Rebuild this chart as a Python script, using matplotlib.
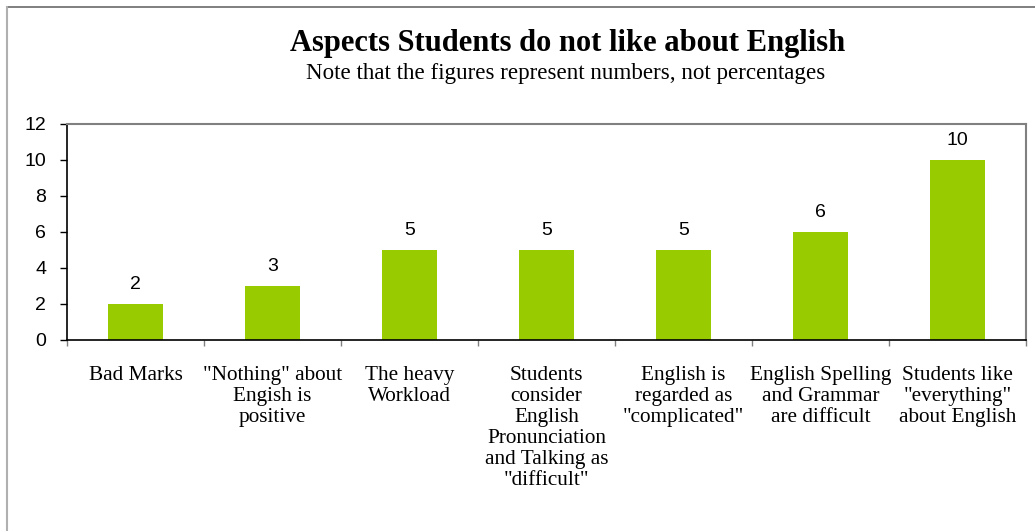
import numpy as np
import matplotlib.pyplot as plt
from matplotlib.lines import Line2D

# dados do gráfico
categorias = [
    'Bad Marks',
    '"Nothing" about\nEngish is\npositive',
    'The heavy\nWorkload',
    'Students\nconsider\nEnglish\nPronunciation\nand Talking as\n"difficult"',
    'English is\nregarded as\n"complicated"',
    'English Spelling\nand Grammar\nare difficult',
    'Students like\n"everything"\nabout English',
]
valores = [2, 3, 5, 5, 5, 6, 10]
ticks_y = [0, 2, 4, 6, 8, 10, 12]

titulo = 'Aspects Students do not like about English'
subtitulo = 'Note that the figures represent numbers, not percentages'

fig = plt.figure(figsize=(10.35, 5.31), dpi=100)
ax = fig.add_axes([67 / 1035, 1 - 340 / 531, (1026 - 67) / 1035, (340 - 124) / 531])

x = np.arange(len(categorias))
barras = ax.bar(x, valores, width=0.4, color='#99CC00', zorder=2)

for xi, v in zip(x, valores):
    ax.annotate(str(v), (xi, v), xytext=(0, 8), textcoords='offset points',
                ha='center', va='bottom', fontsize=14, family='Liberation Sans')

ax.set_xlim(-0.5, len(categorias) - 0.5)
ax.set_ylim(0, 12)
ax.set_yticks(ticks_y)
ax.set_yticklabels([str(t) for t in ticks_y], family='Liberation Sans', fontsize=14)
ax.tick_params(axis='y', direction='out', length=5, width=1, pad=10)

# rótulos das categorias nos centros, marcas nas fronteiras
ax.set_xticks(x)
ax.set_xticklabels(categorias, family='Liberation Serif', fontsize=15.3, linespacing=1.14, va='top')
ax.tick_params(axis='x', which='major', length=0, pad=19)
ax.set_xticks(np.arange(-0.5, len(categorias)), minor=True)
ax.tick_params(axis='x', which='minor', direction='out', length=4.5, width=1, color='#808080')

ax.spines['left'].set_color('black')
ax.spines['bottom'].set_color('black')
ax.spines['left'].set_linewidth(1.2)
ax.spines['bottom'].set_linewidth(1.2)
ax.spines['top'].set_color('#808080')
ax.spines['right'].set_color('#808080')
ax.spines['top'].set_linewidth(1.5)
ax.spines['right'].set_linewidth(1.5)

fig.text(568 / 1035, 1 - 44 / 531, titulo, ha='center', va='center',
         family='Liberation Serif', fontsize=22, fontweight='bold')
fig.text(566 / 1035, 1 - 74 / 531, subtitulo, ha='center', va='center',
         family='Liberation Serif', fontsize=16.6)

# moldura externa (só topo e esquerda aparecem)
fig.add_artist(Line2D([7 / 1035, 1], [1 - 7 / 531] * 2, transform=fig.transFigure,
                      color='#6a6a6a', linewidth=1.2))
fig.add_artist(Line2D([7 / 1035] * 2, [0, 1 - 7 / 531], transform=fig.transFigure,
                      color='#b0b0b0', linewidth=1.5))

fig.savefig('out.png', dpi=100)
